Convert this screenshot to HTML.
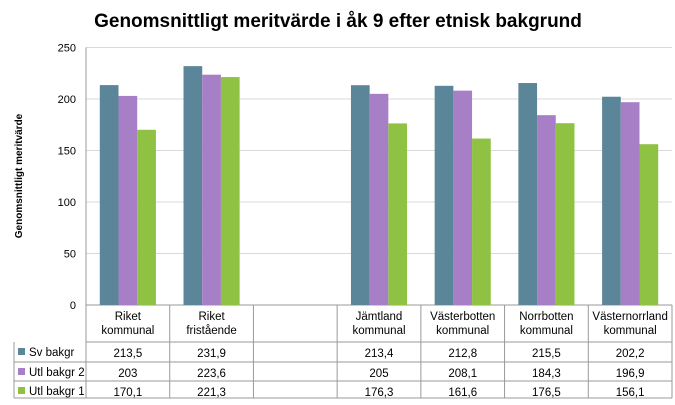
<!DOCTYPE html>
<html><head><meta charset="utf-8"><style>
body{margin:0;background:#fff;font-family:"Liberation Sans",sans-serif}
svg text{font-family:"Liberation Sans",sans-serif}
</style></head><body>
<svg width="675" height="400" xmlns="http://www.w3.org/2000/svg" id="c">
<text x="338" y="27" text-anchor="middle" font-size="19" font-weight="bold" fill="#000">Genomsnittligt meritvärde i åk 9 efter etnisk bakgrund</text>
<text transform="translate(22,176) rotate(-90)" text-anchor="middle" font-size="10" font-weight="bold">Genomsnittligt meritvärde</text>
</svg>
<script>
const categories=[["Riket","kommunal"],["Riket","fristående"],null,["Jämtland","kommunal"],["Västerbotten","kommunal"],["Norrbotten","kommunal"],["Västernorrland","kommunal"]];
const seriesNames=["Sv bakgr","Utl bakgr 2","Utl bakgr 1"];
const svValues=[213.5,231.9,null,213.4,212.8,215.5,202.2];
const utl2Values=[203,223.6,null,205,208.1,184.3,196.9];
const utl1Values=[170.1,221.3,null,176.3,161.6,176.5,156.1];
const yTicks=[0,50,100,150,200,250];
const colors=["#5b8599","#a67fc6","#8fc142"];
const svg=document.getElementById('c');const NS="http://www.w3.org/2000/svg";
const x0=86,x1=672,yTop=47.5,yBot=305,yMax=250;
const slot=(x1-x0)/categories.length;
const y=v=>yBot-(v/yMax)*(yBot-yTop);
function mk(t,a,txt){const e=document.createElementNS(NS,t);for(const k in a)e.setAttribute(k,a[k]);if(txt!=null)e.textContent=txt;svg.appendChild(e);return e;}
yTicks.forEach(t=>{
 const l=mk('line',{x1:x0,x2:x1,y1:y(t),y2:y(t),stroke:t===0?'#999':'#d9d9d9','stroke-width':1});
 
 
 const tx=mk('text',{x:76,y:y(t)+4,'text-anchor':'end','font-size':11},String(t));
 
 
});
mk('line',{x1:x0,x2:x0,y1:yTop,y2:yBot,stroke:'#999'});
const all=[svValues,utl2Values,utl1Values];const bw=18.7;
categories.forEach((c,i)=>{
 if(!c)return;const cx=x0+slot*(i+0.5);
 all.forEach((arr,s)=>{
  const v=arr[i];
  const r=mk('rect',{x:cx-1.5*bw+s*bw,y:y(v),width:bw,height:yBot-y(v),fill:colors[s]});
  
  
 });
});
// table
const rowsY=[305,342,362,381,398];
const tl=14;
mk('line',{x1:x0,x2:x1,y1:rowsY[1],y2:rowsY[1],stroke:'#999'});
for(let r=2;r<rowsY.length;r++)mk('line',{x1:tl,x2:x1,y1:rowsY[r],y2:rowsY[r],stroke:'#999'});
mk('line',{x1:tl,x2:tl,y1:rowsY[1],y2:rowsY[4],stroke:'#999'});
for(let i=0;i<=categories.length;i++)mk('line',{x1:x0+slot*i,x2:x0+slot*i,y1:yBot,y2:rowsY[4],stroke:'#999'});
categories.forEach((c,i)=>{
 if(!c)return;const cx=x0+slot*(i+0.5);
 c.forEach((ln,k)=>{const t=mk('text',{x:cx,y:320+k*14,'text-anchor':'middle','font-size':11.5},ln);
  
  });
 all.forEach((arr,s)=>{const t=mk('text',{x:cx,y:rowsY[s+1]+15,'text-anchor':'middle','font-size':11.5},String(arr[i]).replace('.',','));
  
  });
});
seriesNames.forEach((n,s)=>{
 const sw=mk('rect',{x:18,y:rowsY[s+1]+6,width:7,height:7,fill:colors[s]});
 
 
 const t=mk('text',{x:29,y:rowsY[s+1]+14,'font-size':11.5},n);
 
 
});
</script>
</body></html>
